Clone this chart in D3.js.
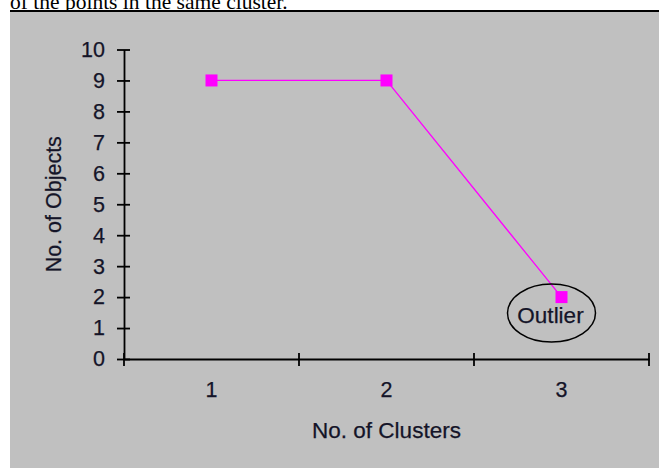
<!DOCTYPE html>
<html><head><meta charset="utf-8">
<script src="https://cdn.jsdelivr.net/npm/d3@7"></script>
<style>body{margin:0;background:#fff}svg{display:block}</style>
</head><body>
<script>
const clusters = ["1", "2", "3"];
const objects = [9, 9, 2];
const yTicks = [0,1,2,3,4,5,6,7,8,9,10];
const xTitle = "No. of Clusters";
const yTitle = "No. of Objects";
const annotation = "Outlier";
const outlierIndex = 2;
const caption = "of the points in the same cluster.";

const W = 659, H = 468;
const svg = d3.select("body").append("svg").attr("width", W).attr("height", H);
svg.append("rect").attr("width", W).attr("height", H).attr("fill", "#fff");
svg.append("text").attr("x", 10).attr("y", 9)
  .attr("font-family", "'Liberation Serif','Times New Roman',serif").attr("font-size", 21.5)
  .text(caption);
svg.append("rect").attr("x", 10).attr("y", 12).attr("width", W - 10).attr("height", H - 12).attr("fill", "#c0c0c0");
svg.append("line").attr("x1", 10).attr("x2", W).attr("y1", 11).attr("y2", 11).attr("stroke", "#000").attr("stroke-width", 2);

const font = "'Liberation Sans',Arial,sans-serif";
const ink = "#141428";
const x = d3.scaleBand().domain(clusters).range([124, 649]);
const y = d3.scaleLinear().domain([0, 10]).range([359, 49.5]);

function styleText(sel, size) {
  sel.attr("font-family", font).attr("font-size", size).attr("fill", ink)
    .attr("stroke", ink).attr("stroke-width", 0.25);
}

// Y axis
const gy = svg.append("g").attr("transform", "translate(124,0)")
  .call(d3.axisLeft(y).tickValues(yTicks).tickFormat(d3.format("d")).tickSize(0).tickPadding(19).tickSizeOuter(0));
gy.selectAll(".tick line").attr("x1", -7).attr("x2", 6).attr("stroke", "#000").attr("stroke-width", 1.8);
styleText(gy.selectAll(".tick text"), 21.5);
gy.select(".domain").attr("stroke", "#000").attr("stroke-width", 1.8);

// X axis
const gx = svg.append("g").attr("transform", "translate(0,359)")
  .call(d3.axisBottom(x).tickSize(0).tickPadding(23).tickSizeOuter(0));
styleText(gx.selectAll(".tick text"), 21.5);
gx.select(".domain").attr("stroke", "#000").attr("stroke-width", 1.8);
const bounds = clusters.map(c => x(c)).concat([x.range()[1]]);
gx.selectAll(".bound").data(bounds).enter().append("line")
  .attr("x1", d => d).attr("x2", d => d).attr("y1", -6).attr("y2", 7)
  .attr("stroke", "#000").attr("stroke-width", 1.8);

// Titles
styleText(svg.append("text").attr("x", (x.range()[0] + x.range()[1]) / 2).attr("y", 438)
  .attr("text-anchor", "middle").text(xTitle), 22.5);
styleText(svg.append("text").attr("transform", `translate(61,${(y(0) + y(10)) / 2}) rotate(-90)`)
  .attr("text-anchor", "middle").text(yTitle), 21.5);

// Line + markers
const cx = c => x(c) + x.bandwidth() / 2;
const data = clusters.map((c, i) => ({ c, v: objects[i] }));
svg.append("path").datum(data)
  .attr("d", d3.line().x(d => cx(d.c)).y(d => y(d.v)))
  .attr("fill", "none").attr("stroke", "#ff00ff").attr("stroke-width", 1.3);
svg.selectAll(".pt").data(data).enter().append("rect")
  .attr("x", d => cx(d.c) - 6).attr("y", d => y(d.v) - 6).attr("width", 12).attr("height", 12)
  .attr("fill", "#ff00ff");

// Outlier annotation
const od = data[outlierIndex];
svg.append("ellipse").attr("cx", cx(od.c) - 10).attr("cy", y(od.v) + 16).attr("rx", 44).attr("ry", 29)
  .attr("fill", "none").attr("stroke", "#000").attr("stroke-width", 1.5);
styleText(svg.append("text").attr("x", cx(od.c) - 11).attr("y", y(od.v) + 26)
  .attr("text-anchor", "middle").text(annotation), 22.5);
</script>
</body></html>
